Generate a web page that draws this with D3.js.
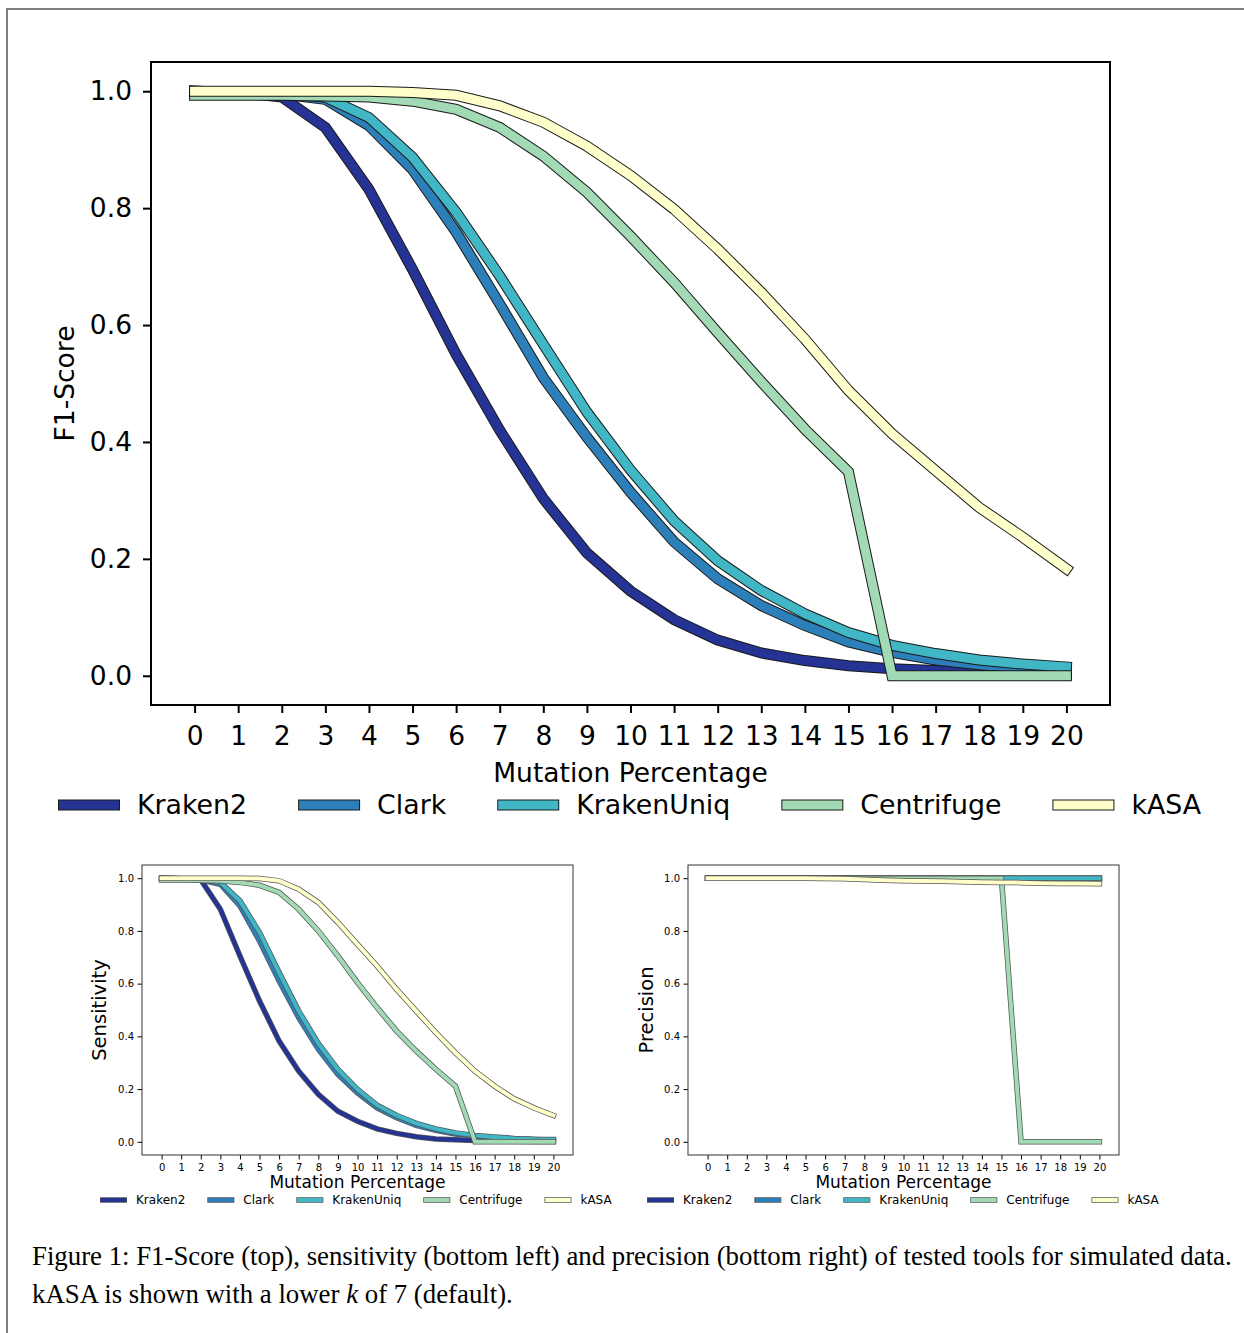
<!DOCTYPE html>
<html>
<head>
<meta charset="utf-8">
<script src="https://d3js.org/d3.v7.min.js"></script>
<style>
  body { margin: 0; background: #fff; }
  svg { display: block; }
</style>
</head>
<body>
<div id="fig"></div>
<script>
  // mutation percentage (x categories)
  const mutation = [0, 1, 2, 3, 4, 5, 6, 7, 8, 9, 10, 11, 12, 13, 14, 15, 16, 17, 18, 19, 20];
  const tools = ["Kraken2", "Clark", "KrakenUniq", "Centrifuge", "kASA"];
  const colors = ["#253494", "#2c7fb8", "#41b6c4", "#a1dab4", "#ffffcc"];
  const yTicks = [0.0, 0.2, 0.4, 0.6, 0.8, 1.0];

  // F1-Score (top)
  const f1Kraken2    = [1.0, 0.998, 0.99, 0.938, 0.832, 0.695, 0.55, 0.42, 0.303, 0.21, 0.145, 0.096, 0.061, 0.039, 0.026, 0.017, 0.012, 0.009, 0.007, 0.005, 0.004];
  const f1Clark      = [1.0, 0.998, 0.995, 0.986, 0.941, 0.866, 0.759, 0.636, 0.51, 0.408, 0.314, 0.229, 0.166, 0.12, 0.086, 0.058, 0.04, 0.027, 0.019, 0.013, 0.01];
  const f1KrakenUniq = [1.0, 0.998, 0.996, 0.99, 0.955, 0.887, 0.793, 0.684, 0.567, 0.451, 0.352, 0.265, 0.197, 0.146, 0.106, 0.074, 0.052, 0.038, 0.027, 0.02, 0.015];
  const f1Centrifuge = [0.993, 0.993, 0.993, 0.992, 0.99, 0.983, 0.969, 0.938, 0.889, 0.827, 0.752, 0.673, 0.587, 0.503, 0.422, 0.349, 0, 0, 0, 0, 0];
  const f1kASA       = [1.0, 1.0, 1.0, 1.0, 1.0, 0.998, 0.993, 0.975, 0.947, 0.906, 0.856, 0.798, 0.73, 0.656, 0.576, 0.488, 0.414, 0.351, 0.288, 0.237, 0.183];

  // Sensitivity (bottom left)
  const senKraken2    = [1.0, 0.998, 0.994, 0.882, 0.705, 0.534, 0.382, 0.268, 0.18, 0.116, 0.078, 0.049, 0.032, 0.019, 0.011, 0.008, 0.005, 0.003, 0.002, 0.001, 0.001];
  const senClark      = [1.0, 0.998, 0.994, 0.977, 0.895, 0.762, 0.61, 0.471, 0.351, 0.256, 0.186, 0.129, 0.091, 0.062, 0.044, 0.03, 0.022, 0.015, 0.011, 0.009, 0.007];
  const senKrakenUniq = [1.0, 0.998, 0.995, 0.984, 0.914, 0.794, 0.642, 0.496, 0.373, 0.275, 0.199, 0.139, 0.1, 0.07, 0.049, 0.034, 0.024, 0.018, 0.013, 0.01, 0.009];
  const senCentrifuge = [0.993, 0.993, 0.992, 0.99, 0.984, 0.973, 0.946, 0.882, 0.8, 0.705, 0.604, 0.509, 0.42, 0.344, 0.275, 0.211, 0, 0, 0, 0, 0];
  const senkASA       = [1.0, 1.0, 1.0, 1.0, 1.0, 0.999, 0.99, 0.958, 0.908, 0.832, 0.749, 0.667, 0.578, 0.496, 0.414, 0.338, 0.268, 0.211, 0.163, 0.129, 0.1];

  // Precision (bottom right)
  const preKraken2    = [1.0, 1.0, 1.0, 1.0, 1.0, 1.0, 1.0, 1.0, 1.0, 1.0, 1.0, 1.0, 1.0, 1.0, 1.0, 1.0, 1.0, 1.0, 1.0, 1.0, 1.0];
  const preClark      = [1.0, 1.0, 1.0, 1.0, 1.0, 1.0, 1.0, 1.0, 1.0, 1.0, 1.0, 1.0, 1.0, 1.0, 1.0, 1.0, 1.0, 1.0, 1.0, 1.0, 1.0];
  const preKrakenUniq = [1.0, 1.0, 1.0, 1.0, 1.0, 1.0, 1.0, 1.0, 1.0, 1.0, 1.0, 1.0, 1.0, 1.0, 1.0, 1.0, 1.0, 1.0, 1.0, 1.0, 1.0];
  const preCentrifuge = [1.0, 1.0, 1.0, 1.0, 1.0, 1.0, 1.0, 1.0, 0.999, 0.999, 0.999, 0.999, 0.999, 0.999, 0.999, 0.999, 0, 0, 0, 0, 0];
  const prekASA       = [1.0, 1.0, 1.0, 1.0, 1.0, 1.0, 0.999, 0.998, 0.995, 0.992, 0.99, 0.989, 0.988, 0.986, 0.985, 0.984, 0.983, 0.981, 0.98, 0.98, 0.979];

  const W = 1244, H = 1333;
  const svg = d3.select("#fig").append("svg")
    .attr("width", W).attr("height", H)
    .style("font-family", "'DejaVu Sans', sans-serif");

  // page frame
  svg.append("path")
    .attr("d", `M7,${H} L7,9 L${W},9`)
    .attr("fill", "none").attr("stroke", "#555").attr("stroke-width", 1.5);

  function panel(o) {
    const x = d3.scaleLinear().domain([-1, 21]).range([o.left, o.right]);
    const y = d3.scaleLinear().domain([-0.05, 1.05]).range([o.bottom, o.top]);
    const g = svg.append("g");

    const line = d3.line().x((d, i) => x(mutation[i])).y(d => y(d));
    const lines = g.append("g").attr("fill", "none")
      .attr("stroke-linejoin", "miter").attr("stroke-linecap", "square");
    o.series.forEach((s, i) => {
      lines.append("path").attr("d", line(s))
        .attr("stroke", o.outline).attr("stroke-width", o.lw + o.ow);
      lines.append("path").attr("d", line(s))
        .attr("stroke", colors[i]).attr("stroke-width", o.lw);
    });

    const xAxis = g.append("g")
      .attr("transform", `translate(0,${o.bottom})`)
      .call(d3.axisBottom(x).tickValues(mutation).tickFormat(d3.format("d"))
        .tickSizeOuter(0).tickSize(o.tick).tickPadding(o.xpad));
    const yAxis = g.append("g")
      .attr("transform", `translate(${o.left},0)`)
      .call(d3.axisLeft(y).tickValues(yTicks).tickFormat(d3.format(".1f"))
        .tickSizeOuter(0).tickSize(o.tick).tickPadding(o.ypad));
    [xAxis, yAxis].forEach(a => {
      a.select(".domain").remove();
      a.selectAll("line").attr("stroke", "#000").attr("stroke-width", o.frameW);
      a.selectAll("text").attr("font-size", o.fs).attr("fill", "#000")
        .style("font-family", "'DejaVu Sans', sans-serif");
    });

    g.append("rect")
      .attr("x", o.left).attr("y", o.top)
      .attr("width", o.right - o.left).attr("height", o.bottom - o.top)
      .attr("fill", "none").attr("stroke", o.frameColor).attr("stroke-width", o.frameW);

    g.append("text")
      .attr("x", (o.left + o.right) / 2).attr("y", o.xlabY)
      .attr("text-anchor", "middle").attr("font-size", o.lfs)
      .text("Mutation Percentage");
    g.append("text")
      .attr("transform", `translate(${o.ylabX},${(o.top + o.bottom) / 2}) rotate(-90)`)
      .attr("text-anchor", "middle").attr("dy", "0.35em").attr("font-size", o.yfs)
      .text(o.ylabel);

    // legend (one row, five columns)
    const leg = g.append("g");
    let cx = o.legX;
    tools.forEach((t, i) => {
      leg.append("line")
        .attr("x1", cx).attr("x2", cx + o.handle)
        .attr("y1", o.legY).attr("y2", o.legY)
        .attr("stroke", o.outline).attr("stroke-width", o.lw + o.ow);
      leg.append("line")
        .attr("x1", cx + o.ow / 2).attr("x2", cx + o.handle - o.ow / 2)
        .attr("y1", o.legY).attr("y2", o.legY)
        .attr("stroke", colors[i]).attr("stroke-width", o.lw);
      const txt = leg.append("text")
        .attr("x", cx + o.handle + o.hpad).attr("y", o.legY)
        .attr("dy", "0.35em").attr("font-size", o.legFs)
        .text(t);
      cx += o.handle + o.hpad + txt.node().getComputedTextLength() + o.colsp;
    });
  }

  // top: F1-Score
  panel({
    left: 151, right: 1110, top: 62, bottom: 705,
    series: [f1Kraken2, f1Clark, f1KrakenUniq, f1Centrifuge, f1kASA],
    lw: 9, ow: 2, outline: "#1a1a1a",
    tick: 8, xpad: 13, ypad: 11, fs: 26.5, lfs: 26.5, yfs: 26.5,
    frameW: 2, frameColor: "#000",
    xlabY: 782, ylabX: 65, ylabel: "F1-Score",
    legX: 58, legY: 805, handle: 62, hpad: 17, colsp: 51, legFs: 26.8
  });

  // bottom left: Sensitivity
  panel({
    left: 142, right: 573, top: 865, bottom: 1155,
    series: [senKraken2, senClark, senKrakenUniq, senCentrifuge, senkASA],
    lw: 4, ow: 1.5, outline: "#555",
    tick: 4.5, xpad: 4.5, ypad: 3.5, fs: 10, lfs: 17, yfs: 19.5,
    frameW: 1, frameColor: "#333",
    xlabY: 1188, ylabX: 99, ylabel: "Sensitivity",
    legX: 100, legY: 1200, handle: 27, hpad: 9, colsp: 22, legFs: 12
  });

  // bottom right: Precision
  panel({
    left: 688, right: 1119, top: 865, bottom: 1155,
    series: [preKraken2, preClark, preKrakenUniq, preCentrifuge, prekASA],
    lw: 4, ow: 1.5, outline: "#555",
    tick: 4.5, xpad: 4.5, ypad: 3.5, fs: 10, lfs: 17, yfs: 19.5,
    frameW: 1, frameColor: "#333",
    xlabY: 1188, ylabX: 646, ylabel: "Precision",
    legX: 647, legY: 1200, handle: 27, hpad: 9, colsp: 22, legFs: 12
  });

  // caption
  const cap = svg.append("g")
    .style("font-family", "'Liberation Serif', 'Times New Roman', serif")
    .attr("font-size", 26.8).attr("fill", "#000");
  cap.append("text").attr("x", 32).attr("y", 1265)
    .text("Figure 1: F1-Score (top), sensitivity (bottom left) and precision (bottom right) of tested tools for simulated data.");
  const l2 = cap.append("text").attr("x", 32).attr("y", 1303);
  l2.append("tspan").text("kASA is shown with a lower ");
  l2.append("tspan").attr("font-style", "italic").text("k");
  l2.append("tspan").text(" of 7 (default).");
</script>
</body>
</html>
